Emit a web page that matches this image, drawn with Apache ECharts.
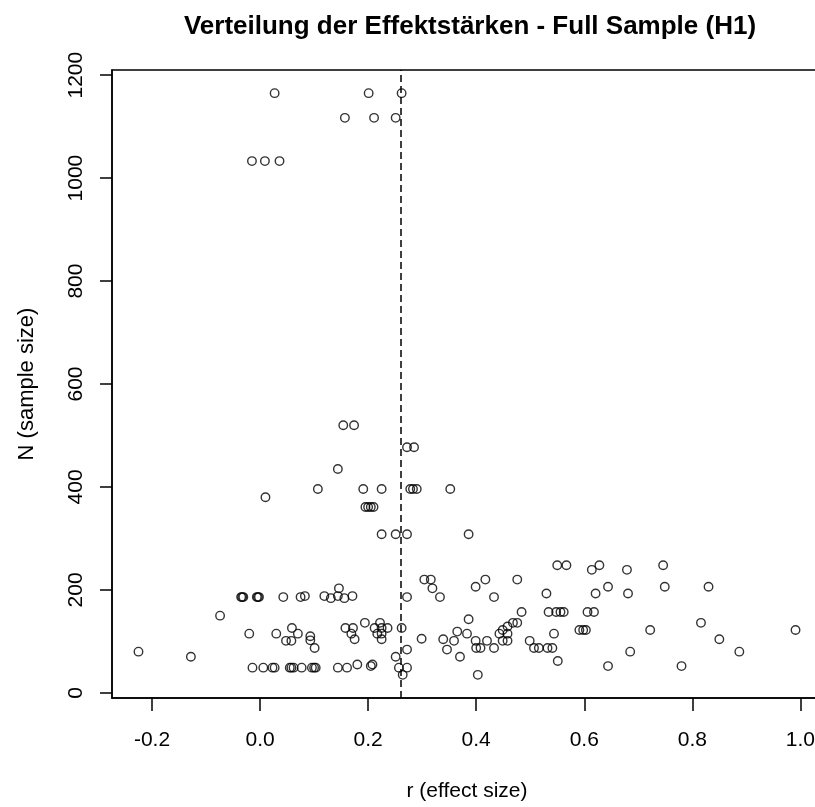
<!DOCTYPE html>
<html>
<head>
<meta charset="utf-8">
<script src="https://cdn.jsdelivr.net/npm/echarts@6/dist/echarts.min.js"></script>
<style>
  html, body { margin: 0; padding: 0; background: #fff; overflow: hidden; }
  /* plot box runs a few pixels past the right edge, as in the original */
  #main { width: 822px; height: 807px; }
</style>
</head>
<body>
<div id="main"></div>
<script>
// r (effect size) and N (sample size)
var effectSize = [
  0.027, 0.201, 0.262,
  0.157, 0.211, 0.251,
  -0.015, 0.009, 0.036,
  0.154, 0.174,
  0.272, 0.285,
  0.144,
  0.107, 0.191, 0.225, 0.278, 0.283, 0.290, 0.352,
  0.010,
  0.195, 0.200, 0.205, 0.210,
  0.225, 0.251, 0.272, 0.386,
  0.550, 0.567, 0.628, 0.746,
  0.614, 0.679,
  0.304, 0.316, 0.417, 0.476,
  0.319, 0.146,
  0.399, 0.644, 0.749, 0.830,
  0.530, 0.621, 0.681,
  -0.035, -0.033, -0.031, -0.006, -0.004, -0.002, 0.043, 0.075, 0.083, 0.119, 0.131, 0.144, 0.156, 0.171, 0.272, 0.333, 0.433,
  0.484, 0.534, 0.548, 0.556, 0.562, 0.606, 0.618,
  -0.074,
  0.386,
  0.194, 0.222, 0.468, 0.476, 0.816,
  0.059, 0.158, 0.172, 0.212, 0.225, 0.236, 0.262,
  0.458, 0.449,
  0.591, 0.598, 0.603, 0.722, 0.991,
  0.365,
  -0.020, 0.030, 0.070, 0.093, 0.169, 0.217, 0.225, 0.383, 0.443, 0.458, 0.544,
  0.299, 0.339, 0.850, 0.175, 0.225,
  0.048, 0.058, 0.093, 0.359, 0.399, 0.420, 0.449, 0.458, 0.499,
  0.101, 0.346, 0.272, 0.400, 0.408, 0.433, 0.507, 0.516, 0.532, 0.541,
  -0.225, 0.685, 0.887,
  -0.128, 0.251, 0.370,
  0.551,
  0.180, 0.208,
  0.205, 0.644, 0.780,
  -0.014, 0.006, 0.023, 0.027, 0.055, 0.058, 0.062, 0.077, 0.096, 0.100, 0.103, 0.144, 0.161, 0.257, 0.272,
  0.264, 0.403
];
var sampleSize = [
  1165, 1165, 1165,
  1117, 1117, 1117,
  1033, 1033, 1033,
  520, 520,
  477, 477,
  435,
  396, 396, 396, 396, 396, 396, 396,
  380,
  361, 361, 361, 361,
  308, 308, 308, 308,
  248, 248, 248, 248,
  239, 239,
  220, 220, 220, 220,
  203, 203,
  206, 206, 206, 206,
  193, 193, 193,
  186, 186, 186, 186, 186, 186, 186, 186, 188, 188, 184, 188, 184, 188, 186, 186, 186,
  157, 157, 157, 157, 157, 157, 157,
  150,
  143,
  136, 136, 136, 136, 136,
  126, 126, 126, 126, 126, 126, 126,
  129, 122,
  122, 122, 122, 122, 122,
  119,
  115, 115, 115, 110, 115, 115, 115, 115, 115, 115, 115,
  105, 104, 104, 104, 104,
  101, 101, 102, 101, 101, 101, 101, 101, 101,
  87, 84, 84, 87, 87, 87, 87, 87, 87, 87,
  80, 80, 80,
  70, 70, 70,
  62,
  55, 55,
  52, 52, 52,
  49, 49, 49, 49, 49, 49, 49, 49, 49, 49, 49, 49, 49, 49, 49,
  35, 35
];
var meanEffect = 0.262;
var xTicks = [-0.2, 0.0, 0.2, 0.4, 0.6, 0.8, 1.0];
var yTicks = [0, 200, 400, 600, 800, 1000, 1200];

var points = effectSize.map(function (r, i) { return [r, sampleSize[i]]; });

var myChart = echarts.init(document.getElementById('main'));
var font = 'Liberation Sans, Arial, sans-serif';
myChart.setOption({
  animation: false,
  title: {
    text: 'Verteilung der Effektstärken - Full Sample (H1)',
    left: 465,
    top: 9,
    textAlign: 'center',
    textStyle: { fontFamily: font, fontSize: 26, fontWeight: 'bold', color: '#000' }
  },
  grid: {
    left: 112, right: 0, top: 70, bottom: 108,
    show: true, borderColor: '#000', borderWidth: 1.5, backgroundColor: 'transparent'
  },
  xAxis: {
    type: 'value',
    min: -0.274, max: 1.04,
    name: 'r (effect size)',
    nameLocation: 'middle',
    nameGap: 83,
    nameTextStyle: { fontFamily: font, fontSize: 21, color: '#000' },
    axisLine: { show: true, onZero: false, lineStyle: { color: '#000', width: 1.5 } },
    axisTick: { show: true, customValues: xTicks, length: 13, lineStyle: { color: '#000', width: 1.5 } },
    axisLabel: {
      customValues: xTicks, margin: 32, color: '#000', fontFamily: font, fontSize: 21,
      formatter: function (v) { return v.toFixed(1); }
    },
    splitLine: { show: false }
  },
  yAxis: {
    type: 'value',
    min: -10, max: 1210,
    name: 'N (sample size)',
    nameLocation: 'middle',
    nameGap: 74,
    nameTextStyle: { fontFamily: font, fontSize: 22, color: '#000' },
    axisLine: { show: true, onZero: false, lineStyle: { color: '#000', width: 1.5 } },
    axisTick: { show: true, customValues: yTicks, length: 12, lineStyle: { color: '#000', width: 1.5 } },
    axisLabel: {
      customValues: yTicks, rotate: 90, margin: 25, color: '#000', fontFamily: font, fontSize: 21,
      formatter: function (v) { return String(v); }
    },
    splitLine: { show: false }
  },
  series: [{
    type: 'scatter',
    data: points,
    symbol: 'circle',
    symbolSize: 8.5,
    itemStyle: { color: 'rgba(0,0,0,0)', borderColor: '#000', borderWidth: 1.4 },
    silent: true,
    markLine: {
      silent: true,
      symbol: 'none',
      label: { show: false },
      lineStyle: { color: '#000', type: [7, 4], width: 1.5 },
      data: [{ xAxis: meanEffect }]
    }
  }]
});
</script>
</body>
</html>
